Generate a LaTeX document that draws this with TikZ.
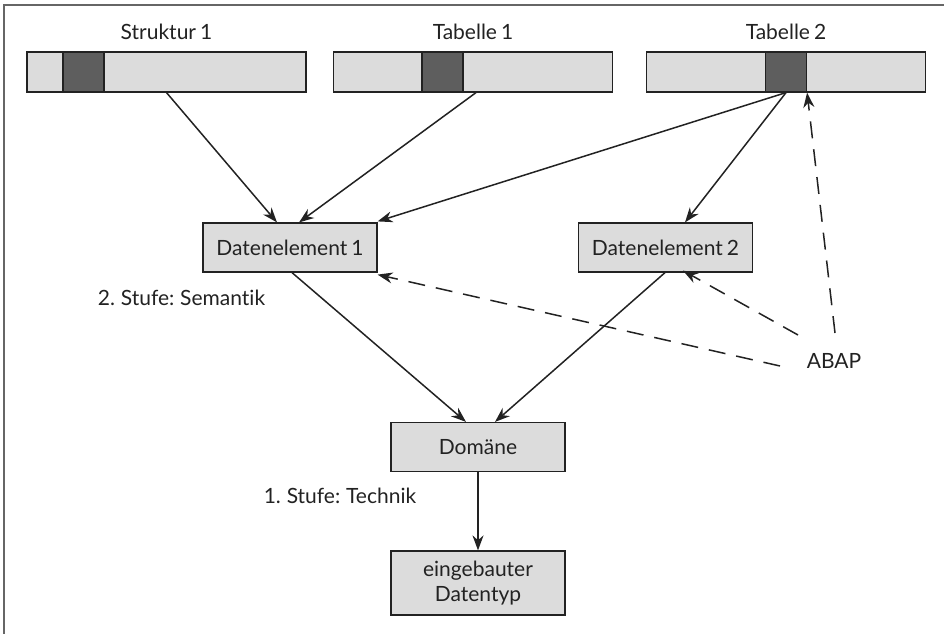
\documentclass[tikz,border=0pt]{standalone}
\usepackage{fontspec}
\setmainfont{Lato}[Ligatures=NoCommon, WordSpace=0.75]
\usetikzlibrary{arrows.meta}
\definecolor{boxfill}{HTML}{DCDCDC}
\definecolor{cellfill}{HTML}{5E5E5E}
\definecolor{ink}{HTML}{222222}
\definecolor{framegray}{HTML}{666666}
\begin{document}
\begin{tikzpicture}[x=1pt,y=-1pt,
  every node/.style={font=\fontsize{21}{25}\selectfont, text=ink},
  bar/.style={draw=ink, line width=1.2pt, fill=boxfill, minimum width=279pt, minimum height=40pt, inner sep=0pt},
  cell/.style={draw=ink, line width=1.2pt, fill=cellfill, minimum width=41pt, minimum height=40pt, inner sep=0pt},
  elem/.style={draw=ink, line width=1.2pt, fill=boxfill, minimum width=174pt, minimum height=49pt, inner sep=0pt, align=center},
  link/.style={draw=ink, line width=1.5pt, -{Stealth[length=15pt,width=11pt]}},
  dlink/.style={link, dash pattern=on 17pt off 11pt},
  caption/.style={inner sep=0pt, anchor=base}]
\useasboundingbox (0,0) rectangle (944,634);
% open frame: top and left edge only
\draw[framegray, line width=2pt] (944,5) -- (4,5) -- (4,634);

% storage structures with their field cells
\node[bar]  (s1bar)  at (166.5,72) {};
\node[cell] (s1cell) at (83.5,72) {};
\node[caption] (s1lab) at (166.5,40) {Struktur 1};
\node[bar]  (t1bar)  at (473,72) {};
\node[cell] (t1cell) at (442.5,72) {};
\node[caption] (t1lab) at (473,40) {Tabelle 1};
\node[bar]  (t2bar)  at (786,72) {};
\node[cell] (t2cell) at (786,72) {};
\node[caption] (t2lab) at (786,40) {Tabelle 2};

% data elements, domain and built-in type
\node[elem] (de1) at (290,247.5) {Datenelement 1};
\node[elem] (de2) at (665.5,247.5) {Datenelement 2};
\node[elem] (dom) at (478,447) {Domäne};
\node[elem, minimum height=64pt] (typ) at (478,583) {eingebauter\\Datentyp};

\node[caption] (sem) at (181.5,305) {2. Stufe: Semantik};
\node[caption] (tec) at (340,503) {1. Stufe: Technik};
\node[caption] (abap) at (834,368) {ABAP};

% references from the structures to the data elements
\draw[link] (s1bar.south) -- (de1.north -| 277,0);
\draw[link] (t1bar.south -| 476,0) -- (de1.north -| 299,0);
\draw[link] (t2cell.south) -- ([yshift=1pt]de1.north east);
\draw[link] (t2cell.south) -- (de2.north -| 685,0);

% data elements refer to the domain
\draw[link] (de1.south -| 292,0) -- (dom.north -| 466,0);
\draw[link] (de2.south -| 665,0) -- (dom.north -| 495,0);
\draw[link] (dom.south) -- (typ.north);

% ABAP may refer to every level
\coordinate (a1) at (780,366);
\coordinate (a2) at (798,335);
\coordinate (a3) at (835,333);
\draw[dlink] (a1) -- ([yshift=-2pt]de1.south east);
\draw[dlink] (a2) -- ([yshift=2pt]de2.south -| 683,0);
\draw[dlink] (a3) -- (t2cell.south east);
\end{tikzpicture}
\end{document}
